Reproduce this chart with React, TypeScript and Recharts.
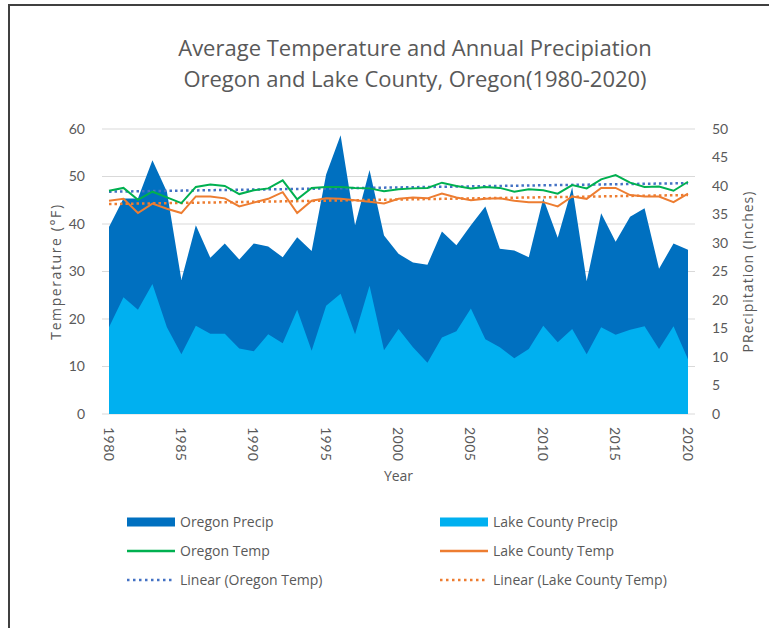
import React from 'react'
import { ComposedChart, Area, Line, XAxis, YAxis, CartesianGrid } from 'recharts'

const years = [
  1980, 1981, 1982, 1983, 1984, 1985, 1986, 1987, 1988, 1989,
  1990, 1991, 1992, 1993, 1994, 1995, 1996, 1997, 1998, 1999,
  2000, 2001, 2002, 2003, 2004, 2005, 2006, 2007, 2008, 2009,
  2010, 2011, 2012, 2013, 2014, 2015, 2016, 2017, 2018, 2019, 2020,
]

// inches
const oregonPrecip = [
  32.8, 37.8, 37.8, 44.5, 39.0, 23.5, 33.1, 27.4, 29.9, 27.1,
  29.9, 29.4, 27.5, 31.0, 28.6, 42.0, 48.9, 33.1, 42.8, 31.3,
  28.1, 26.6, 26.2, 32.0, 29.6, 33.1, 36.4, 29.0, 28.7, 27.5,
  37.8, 30.9, 39.8, 23.3, 35.2, 30.2, 34.6, 36.1, 25.5, 29.9, 28.8,
]
const lakePrecip = [
  15.2, 20.5, 18.3, 22.8, 15.2, 10.5, 15.5, 14.1, 14.1, 11.5,
  11.0, 14.0, 12.4, 18.3, 11.1, 19.0, 21.1, 14.0, 22.5, 11.2,
  14.9, 11.7, 9.0, 13.4, 14.5, 18.5, 13.1, 11.7, 9.8, 11.4,
  15.5, 12.6, 14.9, 10.5, 15.2, 13.9, 14.8, 15.4, 11.4, 15.4, 9.6,
]

// °F
const oregonTemp = [
  47.0, 47.6, 45.1, 46.8, 45.6, 44.4, 47.8, 48.3, 48.0, 46.3,
  47.1, 47.5, 49.2, 45.2, 47.6, 47.8, 47.8, 47.6, 47.5, 46.9,
  47.3, 47.5, 47.6, 48.7, 48.0, 47.5, 47.8, 47.6, 46.8, 47.3,
  47.1, 46.4, 48.2, 47.5, 49.4, 50.3, 48.7, 47.8, 47.9, 47.0, 48.9,
]
const lakeTemp = [
  44.9, 45.3, 42.3, 44.3, 43.2, 42.3, 45.8, 45.8, 45.4, 43.7,
  44.5, 45.3, 46.7, 42.3, 44.9, 45.4, 45.3, 45.0, 44.7, 44.3,
  45.3, 45.6, 45.4, 46.4, 45.6, 45.0, 45.3, 45.4, 44.9, 44.6,
  44.6, 43.7, 45.8, 45.3, 47.6, 47.6, 46.1, 45.8, 45.8, 44.6, 46.4,
]

// linear trend endpoints (1980, 2020)
const oregonTrend = [46.8, 48.6]
const lakeTrend = [44.2, 46.1]

const yearTicks = [1980, 1985, 1990, 1995, 2000, 2005, 2010, 2015, 2020]
const tempTicks = [0, 10, 20, 30, 40, 50, 60]
const precipTicks = [0, 5, 10, 15, 20, 25, 30, 35, 40, 45, 50]

const last = years.length - 1
const rows = years.map((year, i) => ({
  year,
  oregonPrecip: oregonPrecip[i],
  lakePrecip: lakePrecip[i],
  oregonTemp: oregonTemp[i],
  lakeTemp: lakeTemp[i],
  oregonTrend: i === 0 ? oregonTrend[0] : i === last ? oregonTrend[1] : null,
  lakeTrend: i === 0 ? lakeTrend[0] : i === last ? lakeTrend[1] : null,
}))

const FONT = 'Lato, "Open Sans", sans-serif'
const WIDE = '"Open Sans", Lato, sans-serif'
const GREY = '#595959'

function YearTick(props: any) {
  const { x, y, payload } = props
  const ty = y + 5
  return (
    <text
      x={x}
      y={ty}
      transform={`rotate(90, ${x}, ${ty})`}
      textAnchor="start"
      dominantBaseline="central"
      fill={GREY}
      fontSize={14}
      fontFamily={FONT}
      letterSpacing={0.5}
    >
      {payload.value}
    </text>
  )
}

function SideTitle({ viewBox, text, x, spacing }: any) {
  const cy = viewBox.y + viewBox.height / 2
  return (
    <text
      x={x}
      y={cy}
      transform={`rotate(-90, ${x}, ${cy})`}
      textAnchor="middle"
      dominantBaseline="central"
      fill={GREY}
      fontSize={14}
      fontFamily={WIDE}
      letterSpacing={spacing}
    >
      {text}
    </text>
  )
}

const legendItems = [
  { label: 'Oregon Precip', color: '#0070C0', kind: 'area', col: 0, row: 0 },
  { label: 'Lake County Precip', color: '#00B0F0', kind: 'area', col: 1, row: 0 },
  { label: 'Oregon Temp', color: '#00B050', kind: 'line', col: 0, row: 1 },
  { label: 'Lake County Temp', color: '#ED7D31', kind: 'line', col: 1, row: 1 },
  { label: 'Linear (Oregon Temp)', color: '#4472C4', kind: 'dots', col: 0, row: 2 },
  { label: 'Linear (Lake County Temp)', color: '#ED7D31', kind: 'dots', col: 1, row: 2 },
]

function Swatch({ kind, color }: { kind: string; color: string }) {
  return (
    <svg width={48} height={10} style={{ display: 'block' }}>
      {kind === 'area' && <rect x={0} y={0.5} width={48} height={9} fill={color} />}
      {kind === 'line' && <line x1={0} x2={48} y1={5} y2={5} stroke={color} strokeWidth={2.5} />}
      {kind === 'dots' && <line x1={0} x2={48} y1={5} y2={5} stroke={color} strokeWidth={2.5} strokeDasharray="2.5 3.5" />}
    </svg>
  )
}

export default function App() {
  return (
    <div style={{ position: 'fixed', left: 0, top: 0, width: 769, height: 628, overflow: 'hidden', background: '#fff', fontFamily: FONT }}>
      <div style={{ position: 'absolute', left: 8, top: 4, right: -20, bottom: -20, borderLeft: '2px solid #404040', borderTop: '2px solid #404040' }} />

      <div style={{ position: 'absolute', left: 0, width: 830, top: 32, textAlign: 'center', color: GREY, fontSize: 22, lineHeight: '31px', fontFamily: WIDE }}>
        <div>Average Temperature and Annual Precipiation</div>
        <div>Oregon and Lake County, Oregon(1980-2020)</div>
      </div>

      <div style={{ position: 'absolute', left: 0, top: 0 }}>
        <ComposedChart width={769} height={628} data={rows} margin={{ top: 129, right: 14, bottom: 139, left: 30 }}>
          <CartesianGrid yAxisId="temp" vertical={false} stroke="#D9D9D9" />
          <XAxis
            dataKey="year"
            type="number"
            domain={[1980, 2020]}
            ticks={yearTicks}
            padding={{ left: 7, right: 7 }}
            axisLine={false}
            tickLine={false}
            tick={<YearTick />}
            height={75}
            label={{ value: 'Year', position: 'insideBottom', offset: 8, fill: GREY, fontSize: 14, fontFamily: WIDE }}
          />
          <YAxis
            yAxisId="temp"
            domain={[0, 60]}
            ticks={tempTicks}
            width={72}
            axisLine={false}
            tickLine={false}
            tickMargin={11}
            tick={{ fill: GREY, fontSize: 14, fontFamily: FONT }}
            label={(p: any) => <SideTitle viewBox={p.viewBox} x={55} spacing={1.6} text="Temperature (°F)" />}
          />
          <YAxis
            yAxisId="precip"
            orientation="right"
            domain={[0, 50]}
            ticks={precipTicks}
            width={60}
            axisLine={false}
            tickLine={false}
            tickMargin={11}
            tick={{ fill: GREY, fontSize: 14, fontFamily: FONT, textAnchor: 'start' }}
            label={(p: any) => <SideTitle viewBox={p.viewBox} x={747} spacing={1.0} text="PRecipitation (Inches)" />}
          />
          <Area yAxisId="precip" type="linear" dataKey="oregonPrecip" fill="#0070C0" fillOpacity={1} stroke="none" isAnimationActive={false} />
          <Area yAxisId="precip" type="linear" dataKey="lakePrecip" fill="#00B0F0" fillOpacity={1} stroke="none" isAnimationActive={false} />
          <Line yAxisId="temp" type="linear" dataKey="oregonTrend" stroke="#4472C4" strokeWidth={2.5} strokeDasharray="2.5 3" dot={false} connectNulls isAnimationActive={false} />
          <Line yAxisId="temp" type="linear" dataKey="lakeTrend" stroke="#ED7D31" strokeWidth={2.5} strokeDasharray="2.5 3" dot={false} connectNulls isAnimationActive={false} />
          <Line yAxisId="temp" type="linear" dataKey="oregonTemp" stroke="#00B050" strokeWidth={2} dot={false} isAnimationActive={false} />
          <Line yAxisId="temp" type="linear" dataKey="lakeTemp" stroke="#ED7D31" strokeWidth={2} dot={false} isAnimationActive={false} />
        </ComposedChart>
      </div>

      {legendItems.map((it) => (
        <div
          key={it.label}
          style={{
            position: 'absolute',
            left: it.col === 0 ? 127 : 440,
            top: 521.5 + it.row * 29 - 10,
            height: 20,
            display: 'flex',
            alignItems: 'center',
            color: GREY,
            fontSize: 14,
            fontFamily: WIDE,
            whiteSpace: 'nowrap',
          }}
        >
          <Swatch kind={it.kind} color={it.color} />
          <span style={{ marginLeft: 5 }}>{it.label}</span>
        </div>
      ))}
    </div>
  )
}
